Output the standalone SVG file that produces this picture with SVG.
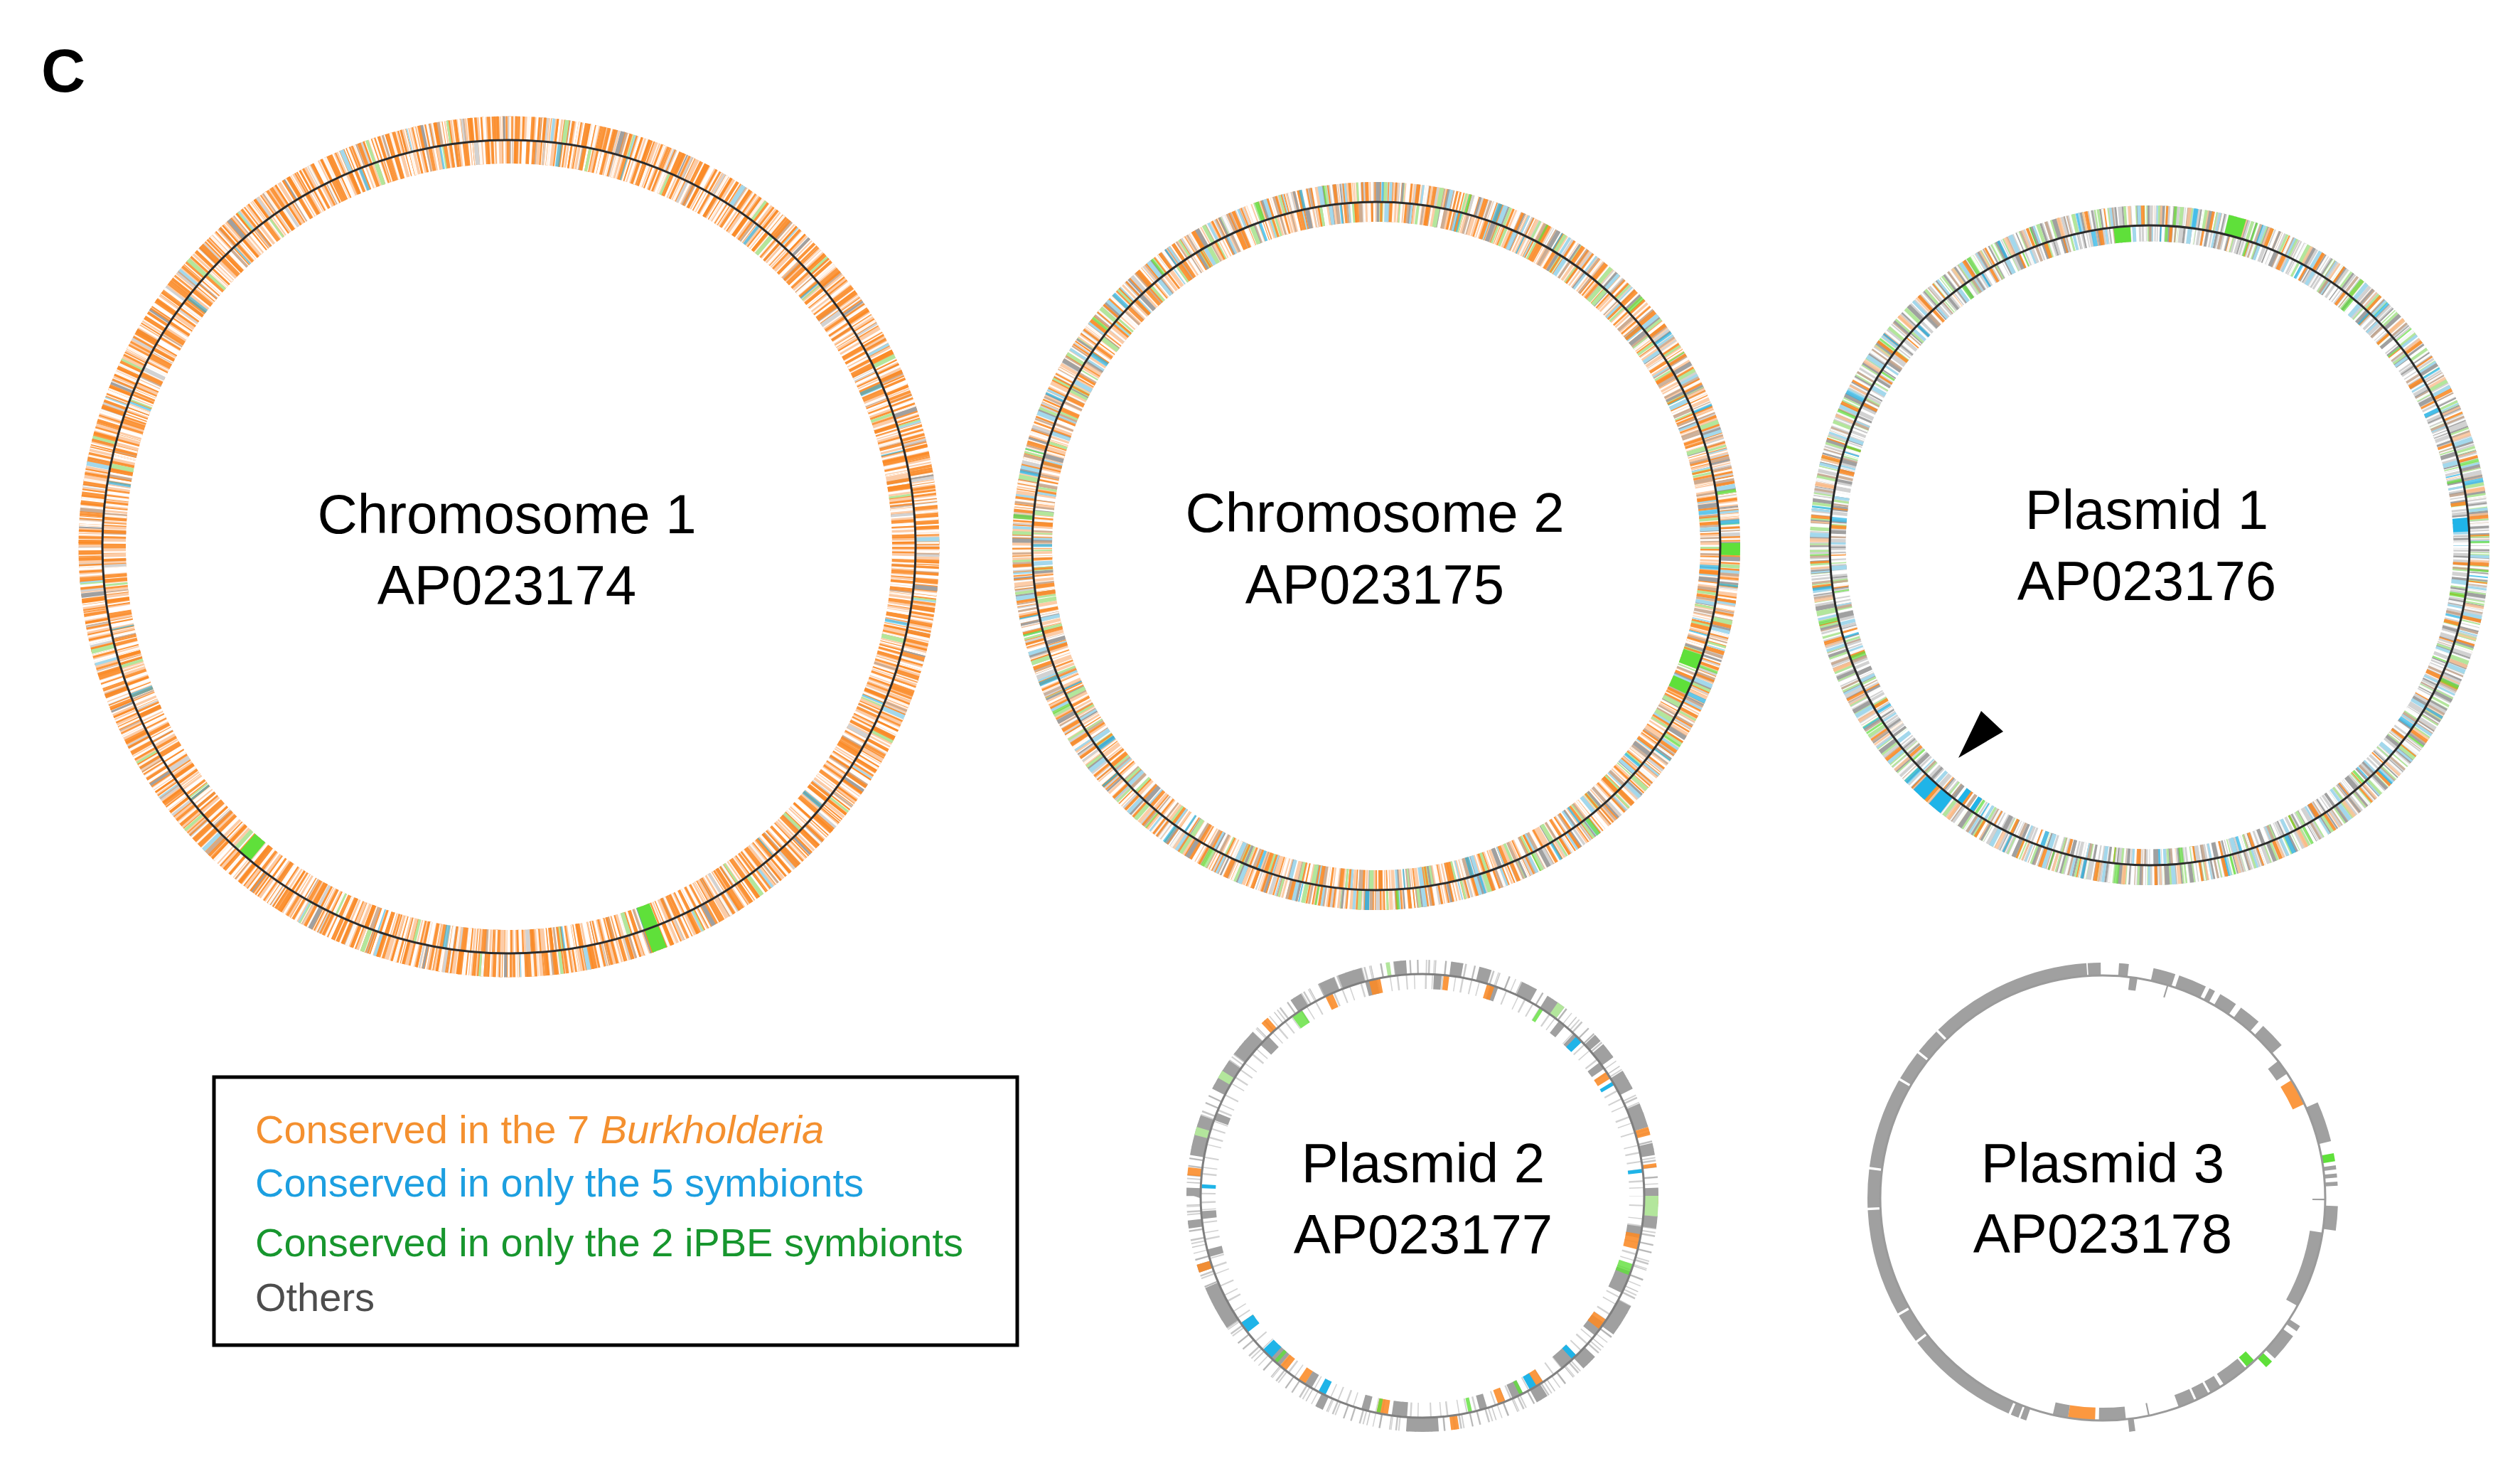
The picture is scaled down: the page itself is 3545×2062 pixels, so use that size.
<svg xmlns="http://www.w3.org/2000/svg" width="3545" height="2062" viewBox="0 0 3545 2062">
<defs>
<style>
text{font-family:"Liberation Sans",Arial,Helvetica,sans-serif}
.lbl{font-size:78px;text-anchor:middle;fill:#000}
.leg{font-size:56px}
circle{fill:none}
.lo{stroke:#fcc398;stroke-opacity:.85}
.or{stroke:#fa8a26;stroke-opacity:.88}
.tn{stroke:#c4a58c;stroke-opacity:.85}
.lg{stroke:#d2d2d2}
.gy{stroke:#a0a0a0}
.lb{stroke:#a3d8ec}
.bl{stroke:#1fb4e8}
.gn{stroke:#5fe03a}
.lgn{stroke:#b3e69c}
.wh{stroke:#fff;stroke-opacity:.9}
.ln{stroke:#2b2b2b;stroke-width:3}
.pA{stroke-dasharray:5 2 3 4 7 1 2 3 4 2 6 5 2 1 3 6 8 2 2 4 5 3 3 1 6 4 2 2 9 3 4 1 2 5 3 2 5 3 7 2}
.pA2{stroke-dasharray:2 3 6 2 4 5 3 1 7 3 2 6 5 2 4 3 8 1 3 4 2 2 6 3 5 7 3 2 4 1}
.pB{stroke-dasharray:3 6 5 4 2 9 6 3 4 7 2 5 8 6 3 4 2 8 5 3 7 9 2 4 4 6 3 5}
.pB2{stroke-dasharray:5 8 2 4 3 10 7 3 2 6 4 9 3 5 6 12 2 3}
.pC{stroke-dasharray:4 12 2 9 6 15 3 7 2 18 5 10 3 14 7 11 2 20}
.pD{stroke-dasharray:3 35 5 22 2 48 6 30 3 60 4 41}
.pE{stroke-dasharray:4 110 3 160 6 90 2 200}
.pF{stroke-dasharray:2 9 1.5 14 2.5 7 1.5 12 2 16 1.5 8 2.5 10}
.pW{stroke-dasharray:2 9 3 14 1.5 6 4 17 2 11 3 8 2 13}
</style>
</defs>
<rect x="0" y="0" width="3545" height="2062" fill="#fff"/>

<g id="panel-label">
<text x="58" y="129" font-size="86" font-weight="bold" fill="#000">C</text>
</g>

<g id="chromosome1">
<circle class="lo pA" cx="716" cy="769" r="589" stroke-width="33"/>
<circle class="tn pD" cx="716" cy="769" r="589" stroke-width="33" stroke-dashoffset="30"/>
<circle class="lg pD" cx="716" cy="769" r="589" stroke-width="33" stroke-dashoffset="140"/>
<circle class="or pB" cx="716" cy="769" r="589" stroke-width="33" stroke-dashoffset="11"/>
<circle class="or pC" cx="716" cy="769" r="589" stroke-width="33" stroke-dashoffset="57"/>
<circle class="wh pW" cx="716" cy="769" r="589" stroke-width="33" stroke-dashoffset="5"/>
<circle class="lb pE" cx="716" cy="769" r="589" stroke-width="33" stroke-dashoffset="40"/>
<circle class="gy pE" cx="716" cy="769" r="589" stroke-width="33" stroke-dashoffset="222"/>
<circle class="lgn pE" cx="716" cy="769" r="589" stroke-width="33" stroke-dashoffset="300"/>
<circle class="lo pA2" cx="716" cy="769" r="555" stroke-width="32" stroke-dashoffset="20"/>
<circle class="tn pD" cx="716" cy="769" r="555" stroke-width="32" stroke-dashoffset="90"/>
<circle class="or pB" cx="716" cy="769" r="555" stroke-width="32" stroke-dashoffset="70"/>
<circle class="or pD" cx="716" cy="769" r="555" stroke-width="32" stroke-dashoffset="5"/>
<circle class="wh pW" cx="716" cy="769" r="555" stroke-width="32" stroke-dashoffset="41"/>
<circle class="lg pE" cx="716" cy="769" r="555" stroke-width="32" stroke-dashoffset="10"/>
<circle class="bl pE" cx="716" cy="769" r="555" stroke-width="32" stroke-dashoffset="470" stroke-opacity=".6"/>
<circle class="lgn pE" cx="716" cy="769" r="555" stroke-width="32" stroke-dashoffset="150"/>
<circle class="gn" cx="716" cy="769" r="555" stroke-width="32" pathLength="360" transform="rotate(-90 716 769)" stroke-dasharray="0 158.5 2 59 2 150"/>
<circle class="gn" cx="716" cy="769" r="589" stroke-width="33" pathLength="360" transform="rotate(-90 716 769)" stroke-dasharray="0 158.5 2 210"/>
<circle class="ln" cx="716" cy="769" r="572"/>
<text class="lbl" x="713" y="750">Chromosome 1</text>
<text class="lbl" x="713" y="850">AP023174</text>
</g>

<g id="chromosome2">
<circle class="lo pA" cx="1936" cy="768" r="498" stroke-width="28" stroke-dashoffset="33"/>
<circle class="lg pC" cx="1936" cy="768" r="498" stroke-width="28"/>
<circle class="tn pC" cx="1936" cy="768" r="498" stroke-width="28" stroke-dashoffset="75"/>
<circle class="or pB2" cx="1936" cy="768" r="498" stroke-width="28" stroke-dashoffset="19"/>
<circle class="wh pW" cx="1936" cy="768" r="498" stroke-width="28" stroke-dashoffset="8"/>
<circle class="lgn pD" cx="1936" cy="768" r="498" stroke-width="28" stroke-dashoffset="12"/>
<circle class="gy pD" cx="1936" cy="768" r="498" stroke-width="28" stroke-dashoffset="100"/>
<circle class="lb pD" cx="1936" cy="768" r="498" stroke-width="28" stroke-dashoffset="180"/>
<circle class="bl pE" cx="1936" cy="768" r="498" stroke-width="28" stroke-dashoffset="60" stroke-opacity=".7"/>
<circle class="gn pE" cx="1936" cy="768" r="498" stroke-width="28" stroke-dashoffset="400" stroke-opacity=".7"/>
<circle class="lo pA2" cx="1936" cy="768" r="470" stroke-width="28" stroke-dashoffset="3"/>
<circle class="tn pC" cx="1936" cy="768" r="470" stroke-width="28" stroke-dashoffset="20"/>
<circle class="or pC" cx="1936" cy="768" r="470" stroke-width="28" stroke-dashoffset="44"/>
<circle class="wh pW" cx="1936" cy="768" r="470" stroke-width="28" stroke-dashoffset="29"/>
<circle class="gy pD" cx="1936" cy="768" r="470" stroke-width="28" stroke-dashoffset="71"/>
<circle class="lgn pD" cx="1936" cy="768" r="470" stroke-width="28" stroke-dashoffset="150"/>
<circle class="lb pD" cx="1936" cy="768" r="470" stroke-width="28" stroke-dashoffset="220"/>
<circle class="bl pE" cx="1936" cy="768" r="470" stroke-width="28" stroke-dashoffset="250" stroke-opacity=".7"/>
<circle class="lgn pE" cx="1936" cy="768" r="470" stroke-width="28" stroke-dashoffset="30"/>
<circle class="or pD" cx="1936" cy="768" r="470" stroke-width="28" stroke-dashoffset="3"/>
<circle class="gn" cx="1936" cy="768" r="498" stroke-width="28" pathLength="360" transform="rotate(-90 1936 768)" stroke-dasharray="0 89.5 2 280"/>
<circle class="gn" cx="1936" cy="768" r="470" stroke-width="28" pathLength="360" transform="rotate(-90 1936 768)" stroke-dasharray="0 108.5 2.5 2.5 2 250"/>
<circle class="ln" cx="1936" cy="768" r="484"/>
<text class="lbl" x="1934" y="748">Chromosome 2</text>
<text class="lbl" x="1934" y="849">AP023175</text>
</g>

<g id="plasmid1">
<circle class="lg pA" cx="3024" cy="767" r="464" stroke-width="28" stroke-dashoffset="9"/>
<circle class="tn pC" cx="3024" cy="767" r="464" stroke-width="28" stroke-dashoffset="60"/>
<circle class="gy pC" cx="3024" cy="767" r="464" stroke-width="28" stroke-dashoffset="10"/>
<circle class="lgn pC" cx="3024" cy="767" r="464" stroke-width="28" stroke-dashoffset="100"/>
<circle class="wh pW" cx="3024" cy="767" r="464" stroke-width="28" stroke-dashoffset="17"/>
<circle class="or pD" cx="3024" cy="767" r="464" stroke-width="28" stroke-dashoffset="14"/>
<circle class="lo pD" cx="3024" cy="767" r="464" stroke-width="28" stroke-dashoffset="130"/>
<circle class="lb pD" cx="3024" cy="767" r="464" stroke-width="28" stroke-dashoffset="200"/>
<circle class="gn pE" cx="3024" cy="767" r="464" stroke-width="28" stroke-dashoffset="80" stroke-opacity=".7"/>
<circle class="bl pE" cx="3024" cy="767" r="464" stroke-width="28" stroke-dashoffset="330" stroke-opacity=".7"/>
<circle class="lg pA2" cx="3024" cy="767" r="439" stroke-width="23" stroke-dashoffset="40"/>
<circle class="gy pC" cx="3024" cy="767" r="439" stroke-width="23" stroke-dashoffset="33"/>
<circle class="lgn pD" cx="3024" cy="767" r="439" stroke-width="23" stroke-dashoffset="7"/>
<circle class="tn pD" cx="3024" cy="767" r="439" stroke-width="23" stroke-dashoffset="120"/>
<circle class="or pD" cx="3024" cy="767" r="439" stroke-width="23" stroke-dashoffset="190"/>
<circle class="wh pW" cx="3024" cy="767" r="439" stroke-width="23" stroke-dashoffset="52"/>
<circle class="lb pD" cx="3024" cy="767" r="439" stroke-width="23" stroke-dashoffset="66"/>
<circle class="gn pE" cx="3024" cy="767" r="439" stroke-width="23" stroke-dashoffset="210" stroke-opacity=".7"/>
<circle class="bl pE" cx="3024" cy="767" r="439" stroke-width="23" stroke-dashoffset="15" stroke-opacity=".7"/>
<circle class="bl" cx="3024" cy="767" r="464" stroke-width="28" pathLength="360" transform="rotate(-90 3024 767)" stroke-dasharray="0 218 2.5 1 2.5 140"/>
<circle class="bl" cx="3024" cy="767" r="439" stroke-width="23" pathLength="360" transform="rotate(-90 3024 767)" stroke-dasharray="0 85 2.5 126 0.8 1.7 1 150"/>
<circle class="gn" cx="3024" cy="767" r="464" stroke-width="28" pathLength="360" transform="rotate(-90 3024 767)" stroke-dasharray="0 13.5 3 350"/>
<circle class="gn" cx="3024" cy="767" r="439" stroke-width="23" pathLength="360" transform="rotate(-90 3024 767)" stroke-dasharray="0 353.5 3 10"/>
<circle class="ln" cx="3024" cy="767" r="450"/>
<text class="lbl" x="3020" y="744">Plasmid 1</text>
<text class="lbl" x="3020" y="844">AP023176</text>
</g>

<g id="arrowhead">
<polygon points="2787,1000 2818,1029 2755,1066" fill="#000"/>
</g>

<g id="plasmid2">
<circle class="lg pF" cx="2001" cy="1682" r="322" stroke-width="20"/>
<circle class="gy pF" cx="2001" cy="1682" r="322" stroke-width="20" stroke-dashoffset="23" stroke-opacity=".6"/>
<circle class="lg pF" cx="2001" cy="1682" r="301" stroke-width="20" stroke-dashoffset="37"/>
<circle class="gy" cx="2001" cy="1682" r="322" stroke-width="20" pathLength="360" transform="rotate(-90 2001 1682)" stroke-dasharray="0 7 3 4 3 8 4 3 5 10 2 1 4 4 5 4 6 4 3 8 3 4 3 20 8 7 4 11 3 25 8 21 2 29 11 4 2 9 2 6 2 8 10 7 8 2 7 12 3 5 4 1 6 8 3 10"/>
<circle class="gy" cx="2001" cy="1682" r="301" stroke-width="20" pathLength="360" transform="rotate(-90 2001 1682)" stroke-dasharray="0 3 2 13 2 18 2 3 2 8 2 43 3 9 6 9 4 7 5 12 3 7 2 19 4 6 2 14 2 8 4 30 2 8 2 24 2 21 3 29 3 20"/>
<circle class="or" cx="2001" cy="1682" r="322" stroke-width="20" pathLength="360" transform="rotate(-90 2001 1682)" stroke-dasharray="0 73 2 7 1 8 1 79 2 78 2 22 2 40 2 50"/>
<circle class="or" cx="2001" cy="1682" r="301" stroke-width="20" pathLength="360" transform="rotate(-90 2001 1682)" stroke-dasharray="0 5.5 1.5 10 2 37 2 42 4 20 3 20 3 8 2 29 3 20 2 4 2 14 1 99 2 10 3 20"/>
<circle class="bl" cx="2001" cy="1682" r="301" stroke-width="20" pathLength="360" transform="rotate(-90 2001 1682)" stroke-dasharray="0 44 2 13 1 23 1 52 1.5 11.5 2 55 2 15 3 6 3 37 1 90"/>
<circle class="lgn" cx="2001" cy="1682" r="322" stroke-width="20" pathLength="360" transform="rotate(-90 2001 1682)" stroke-dasharray="0 35 2 53 5 190 2 13 2 49 1 20"/>
<circle class="gn" cx="2001" cy="1682" r="301" stroke-width="20" pathLength="360" transform="rotate(-90 2001 1682)" stroke-dasharray="0 32 1 75 3 42 1 13 1 23 1 29 1 102 3 40" stroke-opacity=".8"/>
<circle cx="2001" cy="1682" r="312" stroke="#7f7f7f" stroke-width="3"/>
<text class="lbl" x="2002" y="1663">Plasmid 2</text>
<text class="lbl" x="2002" y="1763">AP023177</text>
</g>

<g id="plasmid3">
<circle class="gy" cx="2958" cy="1685" r="322" stroke-width="18" pathLength="360" transform="rotate(-90 2958 1685)" stroke-dasharray="0 4 2.4 6.1 5.5 1 7 1 1.5 1.5 4.5 1.5 5.5 1.5 6.5 16.5 10 6 1 1 1 1 1 5 6 25 1.5 1.5 7 39 1.5 25.5 1.5 0.5 2 0.6 28.4 0.6 7.4 0.6 26.4 0.6 9.4 0.6 22.4 0.6 7.4 0.6 6.4 0.6 40.4 0.3 3.2 10"/>
<circle class="gy" cx="2958" cy="1685" r="304" stroke-width="18" pathLength="360" transform="rotate(-90 2958 1685)" stroke-dasharray="0 7 2 7.8 0.4 34.8 4 34.2 0.4 8.4 20 21 7 1 3 0.6 3.4 0.6 4.4 7.8 0.4 5.8 7 8 4 170"/>
<circle class="or" cx="2958" cy="1685" r="304" stroke-width="18" pathLength="360" transform="rotate(-90 2958 1685)" stroke-dasharray="0 58 7 117 7 180"/>
<circle class="gn" cx="2958" cy="1685" r="322" stroke-width="18" pathLength="360" transform="rotate(-90 2958 1685)" stroke-dasharray="0 79 2 53 2 230"/>
<circle class="gn" cx="2958" cy="1685" r="304" stroke-width="18" pathLength="360" transform="rotate(-90 2958 1685)" stroke-dasharray="0 137 2.5 230"/>
<circle cx="2958" cy="1685" r="313" stroke="#9a9a9a" stroke-width="3"/>
<text class="lbl" x="2958" y="1663">Plasmid 3</text>
<text class="lbl" x="2958" y="1762">AP023178</text>
</g>

<g id="legend">
<rect x="301" y="1515" width="1130" height="377" fill="#fff" stroke="#000" stroke-width="5"/>
<text class="leg" x="359" y="1608" fill="#f4902f">Conserved in the 7 <tspan font-style="italic">Burkholderia</tspan></text>
<text class="leg" x="359" y="1683" fill="#1c9fe0">Conserved in only the 5 symbionts</text>
<text class="leg" x="359" y="1767" fill="#17962e">Conserved in only the 2 iPBE symbionts</text>
<text class="leg" x="359" y="1844" fill="#4d4d4d">Others</text>
</g>
</svg>
